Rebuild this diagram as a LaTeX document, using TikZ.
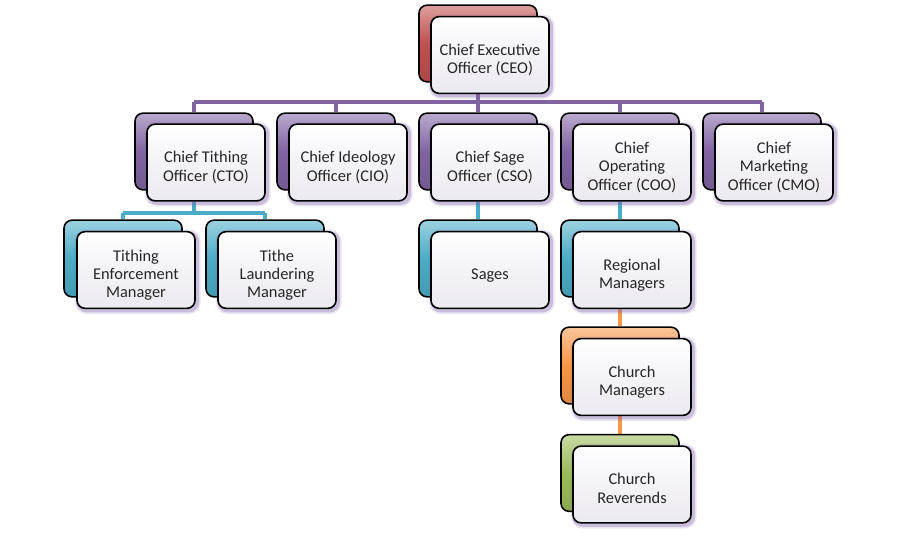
\documentclass[tikz,border=0pt]{standalone}
\usepackage{fontspec}
\setmainfont{Carlito}
\pgfdeclarelayer{background}
\pgfsetlayers{background,main}
\definecolor{txt}{HTML}{262626}
\definecolor{redc}{HTML}{C0504D}
\definecolor{purp}{HTML}{8064A2}
\definecolor{cyanc}{HTML}{4BACC6}
\definecolor{orangec}{HTML}{F79646}
\definecolor{greenc}{HTML}{9BBB59}
\definecolor{glowc}{HTML}{7E5FA8}
\definecolor{frontfill}{HTML}{ECEAF1}
\newcommand{\boxtext}[1]{\raisebox{-4.3pt}[\height][\depth]{\begin{tabular}{@{}c@{}}#1\end{tabular}}}
\tikzset{
  front/.style={draw=black, line width=1.2pt, rounded corners=6pt,
    minimum width=88.5pt, minimum height=57.5pt, text=txt, inner sep=0pt,
    font=\fontsize{12.3}{13.7}\selectfont,
    top color=white, bottom color=frontfill, middle color=frontfill!60!white,
    preaction={draw=glowc, line width=6pt, opacity=0.15, transform canvas={shift={(1.3pt,-1.3pt)}}},
    preaction={draw=glowc, line width=3.5pt, opacity=0.3, transform canvas={shift={(1.3pt,-1.3pt)}}}},
  backbox/.style={draw=black, line width=1.2pt, rounded corners=6pt,
    minimum width=88.5pt, minimum height=57.5pt,
    top color=#1!55!white, bottom color=#1!90!black, middle color=#1},
  link/.style={line width=3pt, draw=#1},
}
\begin{document}
\begin{tikzpicture}[x=0.75pt, y=-0.75pt]
\useasboundingbox (0,0) rectangle (900,540);
% level 1
\node[backbox=redc] (ceob) at (478,43.5) {};
\node[front] (ceo) at (490,55) {\boxtext{Chief Executive\\Officer (CEO)}};
% level 2
\node[backbox=purp] (ctob) at (194,151.5) {};
\node[front] (cto) at (206,162.5) {\boxtext{Chief Tithing\\Officer (CTO)}};
\node[backbox=purp] (ciob) at (336,151.5) {};
\node[front] (cio) at (348,162.5) {\boxtext{Chief Ideology\\Officer (CIO)}};
\node[backbox=purp] (csob) at (478,151.5) {};
\node[front] (cso) at (490,162.5) {\boxtext{Chief Sage\\Officer (CSO)}};
\node[backbox=purp] (coob) at (620,151.5) {};
\node[front] (coo) at (632,162.5) {\boxtext{Chief\\Operating\\Officer (COO)}};
\node[backbox=purp] (cmob) at (762,151.5) {};
\node[front] (cmo) at (774,162.5) {\boxtext{Chief\\Marketing\\Officer (CMO)}};
% level 3
\node[backbox=cyanc] (temb) at (123,258.5) {};
\node[front] (tem) at (136,270) {\boxtext{Tithing\\Enforcement\\Manager}};
\node[backbox=cyanc] (tlmb) at (265,258.5) {};
\node[front] (tlm) at (277,270) {\boxtext{Tithe\\Laundering\\Manager}};
\node[backbox=cyanc] (sagb) at (478,258.5) {};
\node[front] (sag) at (490,270) {\boxtext{Sages}};
\node[backbox=cyanc] (regb) at (620,258.5) {};
\node[front] (reg) at (632,270) {\boxtext{Regional\\Managers}};
% level 4
\node[backbox=orangec] (chmb) at (620,365.5) {};
\node[front] (chm) at (632,377) {\boxtext{Church\\Managers}};
\node[backbox=greenc] (chrb) at (620,473) {};
\node[front] (chr) at (632,484.5) {\boxtext{Church\\Reverends}};
% connectors
\coordinate (bus) at (0,102);
\coordinate (bustwo) at (0,213);
\begin{pgfonlayer}{background}
\fill[white] (0,0) rectangle (900,540);
\draw[link=purp] (ceob.center |- ceo.south) -- (ceob.center |- bus);
\draw[link=purp] (ctob.center |- bus) -- (cmob.center |- bus);
\foreach \n in {ctob,ciob,csob,coob,cmob}
  \draw[link=purp] (\n.center |- bus) -- (\n.north);
\draw[link=cyanc] (ctob.center |- cto.south) -- (ctob.center |- bustwo);
\draw[link=cyanc] (temb.center |- bustwo) -- (tlmb.center |- bustwo);
\draw[link=cyanc] (temb.center |- bustwo) -- (temb.north);
\draw[link=cyanc] (tlmb.center |- bustwo) -- (tlmb.north);
\draw[link=cyanc] (csob.center |- cso.south) -- (sagb.north);
\draw[link=cyanc] (coob.center |- coo.south) -- (regb.north);
\draw[link=orangec] (regb.center |- reg.south) -- (chmb.north);
\draw[link=orangec] (chmb.center |- chm.south) -- (chrb.north);
\end{pgfonlayer}
\end{tikzpicture}
\end{document}
